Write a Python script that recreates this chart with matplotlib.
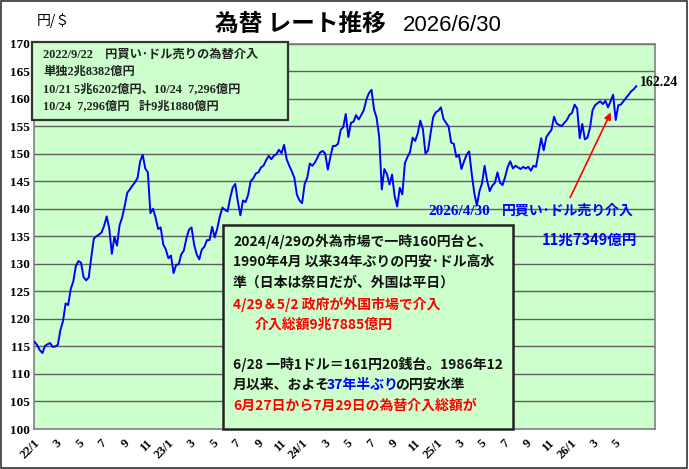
# USD/JPY rate chart 2022/1 - 2026/6 with intervention notes.
# Weekly levels.

import numpy as np
import pandas as pd
import matplotlib
matplotlib.use("Agg")
import matplotlib.pyplot as plt
from matplotlib.patches import Rectangle, FancyArrowPatch
from matplotlib.text import Annotation

# weekly rates (one value per week, weeks starting 2022-01-03)
rate_2022 = [115.8, 115.2, 114.3, 113.8, 115.1,
             115.4, 115.6, 114.9, 115.0,
             115.3, 118.0, 119.6, 122.8,
             122.5, 125.4, 126.8, 129.6,
             130.5, 130.2, 127.6, 127.0, 127.5,
             131.2, 134.6, 135.0, 135.3,
             135.7, 136.9, 138.6, 136.4,
             131.8, 134.9, 133.3, 137.0, 138.4,
             140.5, 142.9, 143.5, 144.2,
             144.8, 145.6, 148.6, 149.8, 147.3,
             146.6, 139.2, 140.0, 138.4,
             136.3, 136.6, 133.5, 132.6]
rate_2023 = [131.0, 131.5, 128.3, 129.8, 129.9,
             131.7, 132.4, 134.6, 136.2,
             136.6, 133.5, 131.7, 130.8,
             132.6, 133.1, 134.3, 134.3,
             136.7, 134.8, 136.4, 138.6, 140.2,
             139.8, 139.5, 141.9, 143.8,
             144.5, 141.3, 138.8, 141.5, 141.2,
             142.5, 145.0, 145.5, 146.4,
             146.6, 147.5, 147.8, 148.8,
             149.6, 149.0, 149.6, 149.9, 150.7,
             150.1, 151.6, 149.0, 147.8,
             146.8, 145.6, 142.5, 141.5]
rate_2024 = [141.0, 144.5, 145.6, 148.2, 147.8,
             148.4, 149.3, 150.2, 150.5,
             150.0, 147.1, 149.4, 151.4,
             151.4, 151.8, 154.3, 154.8, 157.2,
             153.0, 155.6, 155.8, 157.0,
             156.2, 157.0, 157.9, 159.8,
             161.0, 161.6, 158.0, 156.5, 153.0,
             143.5, 147.2, 146.3, 144.4,
             146.2, 142.3, 140.4, 143.8, 142.6,
             148.3, 149.4, 150.3, 152.9,
             152.3, 153.7, 156.0, 154.4,
             150.0, 150.6, 153.7, 156.6, 157.5]
rate_2025 = [157.8, 158.4, 156.3, 155.6,
             154.9, 152.0, 151.8, 149.4,
             149.8, 147.2, 148.6, 149.8, 150.4,
             146.3, 142.8, 140.6, 143.2,
             144.6, 147.8, 145.0, 143.2,
             144.2, 144.7, 146.6, 144.7, 144.3,
             145.8, 147.6, 148.6, 147.3,
             147.8, 147.5, 147.2, 147.6,
             147.3, 147.6, 146.9, 147.8, 147.6,
             150.2, 152.8, 150.6, 153.0,
             153.7, 154.3, 156.7, 155.5,
             155.2, 155.0, 155.6, 156.1, 157.0]
rate_2026 = [157.4, 158.9, 158.2, 152.8,
             155.4, 152.6, 152.9, 154.7,
             157.9, 158.8, 159.2, 159.5, 159.0,
             159.6, 158.4, 159.5, 160.7,
             156.1, 158.8, 158.9, 159.5,
             160.1, 160.7, 161.3, 161.7, 162.24]

y_ticks = [100, 105, 110, 115, 120, 125, 130, 135, 140, 145, 150, 155, 160, 165, 170]
tick_labels = ["22/1", "3", "5", "7", "9", "11",
               "23/1", "3", "5", "7", "9", "11",
               "24/1", "3", "5", "7", "9", "11",
               "25/1", "3", "5", "7", "9", "11",
               "26/1", "3", "5"]

note_2022 = ["2022/9/22\u3000円買い･ドル売りの為替介入",
             "単独2兆8382億円",
             "10/21 5兆6202億円、10/24  7,296億円",
             "10/24  7,296億円   計9兆1880億円"]

rates = np.array(rate_2022 + rate_2023 + rate_2024 + rate_2025 + rate_2026)
dates = pd.date_range("2022-01-03", periods=len(rates), freq="7D")
tick_dates = pd.date_range("2022-01-01", periods=len(tick_labels), freq="2MS")

W, H = 689, 469
CJK = ["Noto Sans CJK JP", "DejaVu Sans"]
SERIF = ["Liberation Serif", "Noto Sans CJK JP"]
GREEN = "#ccffcc"
BLUE = "#0000ff"
RED = "#ff0000"
INK = "#111111"


def fx(px):
    return px / W


def fy(py):
    return 1 - py / H


fig = plt.figure(figsize=(W / 100, H / 100), dpi=100)
fig.patch.set_facecolor("white")

ax = fig.add_axes([fx(34), fy(429), fx(655) - fx(34), fy(43.5) - fy(429)])
ax.set_facecolor(GREEN)
ax.plot(dates, rates, color=BLUE, lw=1.4, zorder=3)

ax.set_ylim(100, 170)
ax.set_xlim(pd.Timestamp("2022-01-01"), pd.Timestamp("2026-08-19"))
ax.set_yticks(y_ticks)
ax.set_yticklabels([str(v) for v in y_ticks], family=SERIF,
                   fontweight="bold", fontsize=9.5)
ax.set_xticks(tick_dates)
ax.set_xticklabels(tick_labels, rotation=45, ha="right", va="top",
                   rotation_mode="anchor", family=SERIF,
                   fontweight="bold", fontsize=9)
ax.tick_params(axis="y", length=0, pad=3)
ax.tick_params(axis="x", length=0, pad=6)
ax.yaxis.grid(True, color="#606060", lw=1.0)
ax.set_axisbelow(True)
for sp in ax.spines.values():
    sp.set_color("#808080")
    sp.set_linewidth(1.2)

# title and unit
fig.text(fx(37), fy(21), "円/＄", family=CJK, fontsize=10, va="center")
fig.text(fx(215), fy(24), "為替 レート推移", family=CJK, fontsize=17,
         fontweight="bold", va="center")
fig.text(fx(403), fy(25.5), "2026/6/30", family=["Liberation Sans"],
         fontsize=16, va="center")

# 2022 intervention box (top left)
fig.add_artist(Rectangle((fx(32), fy(120)), fx(288) - fx(32), fy(42) - fy(120),
                         transform=fig.transFigure, facecolor=GREEN,
                         edgecolor="#333333", lw=1.6, zorder=5))
for i, line in enumerate(note_2022):
    fig.text(fx(43), fy(55 + 17 * i), line, family=SERIF, fontsize=8.8,
             fontweight="bold", color="#222222", va="center", zorder=6)

# 2024 box (middle)
fig.add_artist(Rectangle((fx(223), fy(429)), fx(513) - fx(223), fy(225) - fy(429),
                         transform=fig.transFigure, facecolor=GREEN,
                         edgecolor="#222222", lw=1.8, zorder=5))
box_lines = [
    (233, 241, "2024/4/29の外為市場で一時160円台と、", INK),
    (233, 262, "1990年4月 以来34年ぶりの円安･ドル高水", INK),
    (233, 283, "準（日本は祭日だが、外国は平日）", INK),
    (233, 304, "4/29＆5/2 政府が外国市場で介入", RED),
    (255, 325, "介入総額9兆7885億円", RED),
    (233, 364, "6/28 一時1ドル＝161円20銭台。1986年12", INK),
    (233, 406, "6月27日から7月29日の為替介入総額が", RED),
]
for x, y, s, c in box_lines:
    fig.text(fx(x), fy(y), s, family=CJK, fontsize=10, fontweight="bold",
             color=c, va="center", zorder=6)

# line with a blue middle part: each piece starts where the previous ends
t1 = fig.text(fx(233), fy(385), "月以来、およそ", family=CJK, fontsize=10,
              fontweight="bold", color=INK, va="center", zorder=6)
prev = t1
for s, c in [("37年半ぶり", BLUE), ("の円安水準", INK)]:
    a = Annotation(s, xy=(1, 0.5), xycoords=prev, xytext=(-2.5, 0),
                   textcoords="offset points", va="center", ha="left",
                   family=CJK, fontsize=10, fontweight="bold", color=c,
                   annotation_clip=False)
    a.set_zorder(6)
    fig.add_artist(a)
    prev = a

# 2026 intervention notes
fig.text(fx(428), fy(211), "2026/4/30", family=SERIF, fontsize=11,
         fontweight="bold", color=BLUE, va="center", zorder=6)
fig.text(fx(502), fy(211), "円買い･ドル売り介入", family=CJK, fontsize=10,
         fontweight="bold", color=BLUE, va="center", zorder=6)
fig.text(fx(542), fy(240), "11兆7349億円", family=CJK, fontsize=10.5,
         fontweight="bold", color=BLUE, va="center", zorder=6)
fig.add_artist(FancyArrowPatch((fx(569), fy(200)), (fx(612), fy(110)),
                               transform=fig.transFigure, arrowstyle="-|>",
                               mutation_scale=10, color=RED, lw=1.2, zorder=6))

# last value label
fig.text(fx(640), fy(82), f"{rates[-1]:.2f}", family=SERIF, fontsize=10,
         fontweight="bold", va="center", zorder=6)

# outer frame
fig.add_artist(Rectangle((fx(1), fy(468)), fx(687) - fx(1), fy(1) - fy(468),
                         transform=fig.transFigure, fill=False,
                         edgecolor="#333333", lw=1.2, zorder=7))

fig.savefig("out.png", dpi=100)
